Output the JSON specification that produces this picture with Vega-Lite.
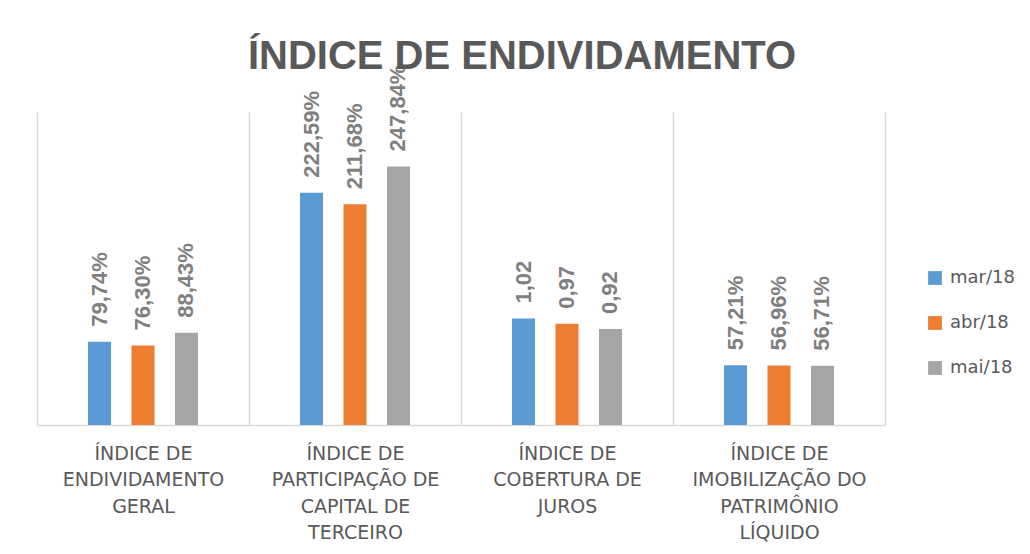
{
  "$schema": "https://vega.github.io/schema/vega-lite/v6.json",
  "width": 848,
  "height": 313,
  "autosize": {"type": "none"},
  "padding": {"left": 37, "top": 112, "right": 145, "bottom": 129},
  "background": "white",
  "config": {"view": {"stroke": null}},
  "title": {
    "text": "ÍNDICE DE ENDIVIDAMENTO",
    "font": "Liberation Sans",
    "fontSize": 40,
    "fontWeight": "bold",
    "color": "#595959",
    "anchor": "middle",
    "frame": "group",
    "baseline": "alphabetic",
    "dx": 61,
    "dy": 54,
    "offset": 10
  },
  "data": {
    "values": [
      {"category": "ÍNDICE DE ENDIVIDAMENTO GERAL", "series": "mar/18", "value": 0.7974, "label": "79,74%"},
      {"category": "ÍNDICE DE ENDIVIDAMENTO GERAL", "series": "abr/18", "value": 0.7630, "label": "76,30%"},
      {"category": "ÍNDICE DE ENDIVIDAMENTO GERAL", "series": "mai/18", "value": 0.8843, "label": "88,43%"},
      {"category": "ÍNDICE DE PARTICIPAÇÃO DE CAPITAL DE TERCEIRO", "series": "mar/18", "value": 2.2259, "label": "222,59%"},
      {"category": "ÍNDICE DE PARTICIPAÇÃO DE CAPITAL DE TERCEIRO", "series": "abr/18", "value": 2.1168, "label": "211,68%"},
      {"category": "ÍNDICE DE PARTICIPAÇÃO DE CAPITAL DE TERCEIRO", "series": "mai/18", "value": 2.4784, "label": "247,84%"},
      {"category": "ÍNDICE DE COBERTURA DE JUROS", "series": "mar/18", "value": 1.02, "label": "1,02"},
      {"category": "ÍNDICE DE COBERTURA DE JUROS", "series": "abr/18", "value": 0.97, "label": "0,97"},
      {"category": "ÍNDICE DE COBERTURA DE JUROS", "series": "mai/18", "value": 0.92, "label": "0,92"},
      {"category": "ÍNDICE DE IMOBILIZAÇÃO DO PATRIMÔNIO LÍQUIDO", "series": "mar/18", "value": 0.5721, "label": "57,21%"},
      {"category": "ÍNDICE DE IMOBILIZAÇÃO DO PATRIMÔNIO LÍQUIDO", "series": "abr/18", "value": 0.5696, "label": "56,96%"},
      {"category": "ÍNDICE DE IMOBILIZAÇÃO DO PATRIMÔNIO LÍQUIDO", "series": "mai/18", "value": 0.5671, "label": "56,71%"}
    ]
  },
  "encoding": {
    "x": {
      "field": "category",
      "type": "nominal",
      "sort": null,
      "scale": {"paddingInner": 0, "paddingOuter": 0},
      "axis": {
        "title": null,
        "labelAngle": 0,
        "labelFont": "DejaVu Sans",
        "labelFontSize": 19,
        "labelColor": "#595959",
        "labelPadding": 19,
        "labelLineHeight": 26.5,
        "labelBaseline": "top",
        "labelExpr": "{'ÍNDICE DE ENDIVIDAMENTO GERAL': ['ÍNDICE DE', 'ENDIVIDAMENTO', 'GERAL'], 'ÍNDICE DE PARTICIPAÇÃO DE CAPITAL DE TERCEIRO': ['ÍNDICE DE', 'PARTICIPAÇÃO DE', 'CAPITAL DE', 'TERCEIRO'], 'ÍNDICE DE COBERTURA DE JUROS': ['ÍNDICE DE', 'COBERTURA DE', 'JUROS'], 'ÍNDICE DE IMOBILIZAÇÃO DO PATRIMÔNIO LÍQUIDO': ['ÍNDICE DE', 'IMOBILIZAÇÃO DO', 'PATRIMÔNIO', 'LÍQUIDO']}[datum.label]",
        "ticks": false,
        "grid": true,
        "tickBand": "extent",
        "gridColor": "#d9d9d9",
        "gridWidth": 1.5,
        "domainColor": "#d9d9d9",
        "domainWidth": 1.5
      }
    },
    "xOffset": {
      "field": "series",
      "type": "nominal",
      "sort": ["mar/18", "abr/18", "mai/18"],
      "scale": {"paddingInner": 0.126, "paddingOuter": 1}
    },
    "y": {
      "field": "value",
      "type": "quantitative",
      "scale": {"domain": [0, 3]},
      "axis": null
    }
  },
  "layer": [
    {
      "mark": {"type": "bar", "width": 23},
      "encoding": {
        "color": {
          "field": "series",
          "type": "nominal",
          "sort": ["mar/18", "abr/18", "mai/18"],
          "scale": {"domain": ["mar/18", "abr/18", "mai/18"], "range": ["#5b9bd5", "#ed7d31", "#a5a5a5"]},
          "legend": {
            "title": null,
            "orient": "none",
            "legendX": 889,
            "legendY": 157,
            "padding": 0,
            "symbolType": "square",
            "symbolSize": 190,
            "symbolStrokeWidth": 0,
            "labelFont": "DejaVu Sans",
            "labelFontSize": 18,
            "labelColor": "#595959",
            "labelOffset": 6,
            "rowPadding": 27
          }
        }
      }
    },
    {
      "mark": {
        "type": "text",
        "angle": -90,
        "align": "left",
        "baseline": "middle",
        "dx": 15,
        "font": "Liberation Sans",
        "fontSize": 22,
        "fontWeight": "bold",
        "color": "#7f7f7f"
      },
      "encoding": {
        "text": {"field": "label"}
      }
    }
  ]
}
